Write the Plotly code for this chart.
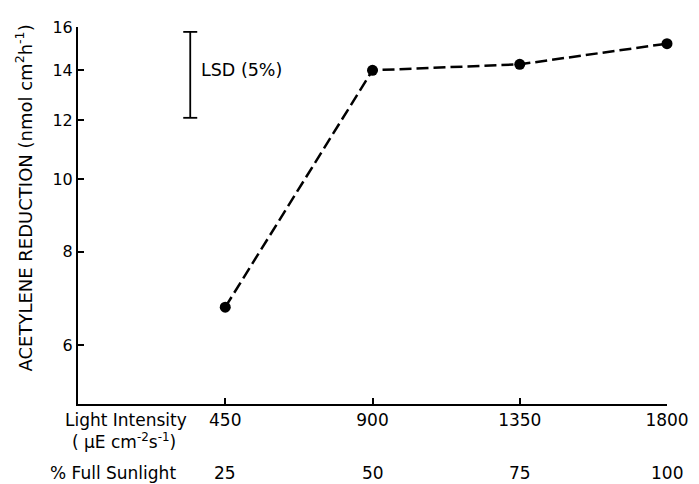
import math
import plotly.graph_objects as go

light_intensity = [450, 900, 1350, 1800]
acetylene = [6.74, 14.0, 14.26, 15.2]
pct_sunlight = ["25", "50", "75", "100"]
y_ticks = [6, 8, 10, 12, 14, 16]
lsd_x = [343, 343]
lsd_y = [12.09, 15.76]
lsd_label_y = 14.0

FONT = "DejaVu Sans, Liberation Sans, Arial, sans-serif"
BLACK = "black"

fig = go.Figure()
fig.add_trace(go.Scatter(
    x=light_intensity, y=acetylene, mode="lines+markers", cliponaxis=False,
    line=dict(color=BLACK, width=2.5, dash="12px,5px"),
    marker=dict(color=BLACK, size=11), showlegend=False))
fig.add_trace(go.Scatter(
    x=lsd_x, y=lsd_y, mode="lines+markers", cliponaxis=False,
    line=dict(color=BLACK, width=1.8),
    marker=dict(symbol="line-ew-open", size=10, color=BLACK, line=dict(width=1.8, color=BLACK)),
    showlegend=False))

fig.add_annotation(x=lsd_x[0], y=math.log10(lsd_label_y), xref="x", yref="y", text="LSD (5%)",
                   showarrow=False, xanchor="left", yanchor="middle", xshift=9,
                   font=dict(family=FONT, size=17.5, color=BLACK))

# y axis title as annotation (positioned like the reference)
fig.add_annotation(x=0, y=0.545, xref="paper", yref="paper",
                   text="ACETYLENE REDUCTION (nmol cm<sup>2</sup>h<sup>-1</sup>)",
                   textangle=-90, showarrow=False, xanchor="center", yanchor="middle", xshift=-54,
                   font=dict(family=FONT, size=18, color=BLACK))

# second row of x labels (% Full Sunlight)
for xv, lab in zip(light_intensity, pct_sunlight):
    fig.add_annotation(x=xv, y=0, xref="x", yref="paper", text=lab, showarrow=False,
                       yanchor="middle", yshift=-69, font=dict(family=FONT, size=17, color=BLACK))
fig.add_annotation(x=0, y=0, xref="paper", yref="paper", text="% Full Sunlight", showarrow=False,
                   xanchor="center", yanchor="middle", yshift=-69, xshift=35,
                   font=dict(family=FONT, size=17, color=BLACK))
fig.add_annotation(x=0, y=0, xref="paper", yref="paper", text="Light Intensity", showarrow=False,
                   xanchor="center", yanchor="middle", yshift=-16, xshift=48,
                   font=dict(family=FONT, size=17, color=BLACK))
fig.add_annotation(x=0, y=0, xref="paper", yref="paper",
                   text="( µE cm<sup>-2</sup>s<sup>-1</sup>)", showarrow=False,
                   xanchor="center", yanchor="middle", yshift=-37, xshift=46,
                   font=dict(family=FONT, size=17, color=BLACK))

fig.update_layout(
    width=691, height=476, autosize=False,
    margin=dict(l=70, r=32, t=10, b=80),
    paper_bgcolor="white", plot_bgcolor="white",
    font=dict(family=FONT, size=16, color=BLACK),
    xaxis=dict(range=[0, 1800], tickvals=light_intensity, ticktext=[str(v) for v in light_intensity],
               showline=True, linecolor=BLACK, linewidth=2, ticks="inside", ticklen=6,
               tickwidth=1.5, tickcolor=BLACK, showgrid=False, zeroline=False,
               tickfont=dict(family=FONT, size=17, color=BLACK)),
    yaxis=dict(type="log", range=[math.log10(5), math.log10(16)], tickvals=y_ticks,
               ticktext=[str(v) for v in y_ticks],
               showline=True, linecolor=BLACK, linewidth=2, ticks="inside", ticklen=6,
               tickwidth=1.5, tickcolor=BLACK, showgrid=False, zeroline=False,
               tickfont=dict(family=FONT, size=16, color=BLACK)),
)

fig.write_html("out.html")
